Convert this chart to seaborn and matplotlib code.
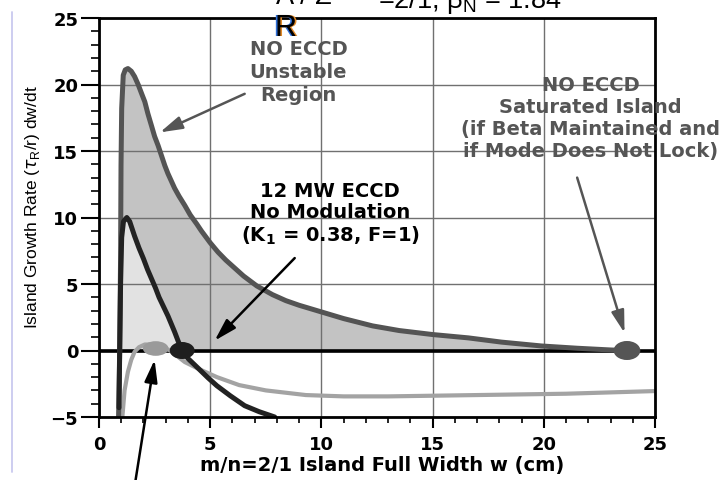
import matplotlib
matplotlib.use("Agg")
import matplotlib.pyplot as plt
import matplotlib.patheffects as pe
import seaborn as sns
import numpy as np
from matplotlib.patches import Ellipse
from matplotlib.lines import Line2D
from matplotlib.ticker import MultipleLocator

# ---------------- data ----------------
no_eccd_w = [0.88, 0.93, 0.97, 0.99, 1.02, 1.09, 1.18, 1.30, 1.45, 1.60, 1.76, 1.92,
             2.06, 2.20, 2.36, 2.50, 2.66, 2.80, 2.96, 3.10, 3.40, 3.60, 3.86, 4.10,
             4.40, 4.60, 5.00, 5.35, 5.70, 6.10, 6.50, 7.10, 7.80, 8.40, 9.00, 10.0,
             11.0, 12.3, 13.5, 15.0, 16.6, 18.1, 19.9, 21.5, 23.0, 23.7]
no_eccd_rate = [-5.0, 0.0, 7.0, 13.9, 18.2, 20.7, 21.1, 21.2, 21.0, 20.6, 20.0, 19.3,
                18.7, 17.8, 16.9, 16.1, 15.4, 14.7, 13.9, 13.3, 12.2, 11.6, 10.9, 10.2,
                9.5, 9.0, 8.1, 7.4, 6.8, 6.2, 5.6, 4.85, 4.2, 3.75, 3.4, 2.9,
                2.4, 1.85, 1.5, 1.2, 0.95, 0.63, 0.34, 0.17, 0.04, 0.0]

eccd_w = [0.90, 0.93, 0.97, 1.02, 1.10, 1.25, 1.38, 1.60, 1.80, 2.00, 2.18, 2.36,
          2.54, 2.70, 2.90, 3.10, 3.25, 3.40, 3.56, 3.74, 4.00, 4.50, 4.90, 5.30,
          5.90, 6.55, 7.20, 7.90]
eccd_rate = [-4.3, 0.0, 5.0, 8.5, 9.7, 10.0, 9.7, 8.6, 7.7, 6.9, 6.1, 5.4,
             4.7, 4.0, 3.3, 2.6, 2.0, 1.4, 0.7, 0.0, -0.6, -1.4, -2.05, -2.65,
             -3.4, -4.15, -4.6, -5.0]

mod_w = [1.05, 1.15, 1.30, 1.45, 1.60, 1.80, 2.06, 2.40, 2.80, 3.20, 3.50, 3.86, 4.50,
         5.30, 6.30, 7.50, 9.30, 11.0, 13.0, 15.0, 17.0, 19.0, 21.0, 23.0, 25.0]
mod_rate = [-5.0, -3.0, -1.6, -0.7, -0.1, 0.25, 0.45, 0.45, 0.3, 0.0, -0.4, -0.87, -1.4,
            -2.0, -2.6, -3.0, -3.35, -3.45, -3.45, -3.4, -3.35, -3.3, -3.25, -3.15, -3.05]

eq_w = [2.55, 3.74, 23.74]
eq_rate = [0.15, 0.0, 0.0]

x_ticks = [0, 5, 10, 15, 20, 25]
y_ticks = [-5, 0, 5, 10, 15, 20, 25]

# ---------------- style ----------------
sns.set_theme(style="white")
plt.rcParams['font.family'] = ['DejaVu Sans']
plt.rcParams['axes.unicode_minus'] = True

fig = plt.figure(figsize=(7.2, 4.81), dpi=100)
ax = fig.add_axes([99/720, 1-418/481, (655-99)/720, (418-19)/481])

# fills
ne_w = np.array(no_eccd_w); ne_r = np.array(no_eccd_rate)
ec_w = np.array(eccd_w); ec_r = np.array(eccd_rate)
ax.fill_between(ne_w, ne_r, 0, where=ne_r >= 0, interpolate=True,
                color='#c3c3c3', lw=0, zorder=1)
ax.fill_between(ec_w, ec_r, 0, where=ec_r >= 0, interpolate=True,
                color='#e2e2e2', lw=0, zorder=1.1)

# grid
ax.set_axisbelow(False)
ax.grid(True, which='major', color='#707070', lw=1.0, zorder=2)
ax.axhline(0, color='black', lw=2.6, zorder=2.6)

# curves
sns.lineplot(x=mod_w, y=mod_rate, ax=ax, color='#a3a3a3', lw=3.0,
             estimator=None, sort=False, zorder=3)
sns.lineplot(x=no_eccd_w, y=no_eccd_rate, ax=ax, color='#545454', lw=3.6,
             estimator=None, sort=False, zorder=4)
sns.lineplot(x=eccd_w, y=eccd_rate, ax=ax, color='#222222', lw=3.6,
             estimator=None, sort=False, zorder=5)

# equilibrium dots
dot_style = [('#9a9a9a', 1.15, 1.1), ('#1e1e1e', 1.12, 1.28), ('#555555', 1.2, 1.43)]
for (xw, yr), (c, ww, hh) in zip(zip(eq_w, eq_rate), dot_style):
    ax.add_patch(Ellipse((xw, yr), ww, hh, color=c, zorder=6, lw=0))

ax.set_xlim(0, 25)
ax.set_ylim(-5, 25)
ax.set_xticks(x_ticks)
ax.set_yticks(y_ticks)
ax.xaxis.set_minor_locator(MultipleLocator(1))
ax.yaxis.set_minor_locator(MultipleLocator(1))
for s in ax.spines.values():
    s.set_visible(True)
    s.set_color('black')
    s.set_linewidth(2.0)
    s.set_zorder(7)
ax.tick_params(axis='y', which='major', direction='out', length=13, width=1.5,
               color='black', pad=2, labelsize=13, left=True)
ax.tick_params(axis='y', which='minor', direction='out', length=6, width=1.2,
               color='black', left=True)
ax.tick_params(axis='x', which='major', direction='out', length=8, width=1.5,
               color='black', pad=5, labelsize=13, bottom=True)
ax.tick_params(axis='x', which='minor', direction='out', length=4.5, width=1.2,
               color='black', bottom=True)
for lab in ax.get_xticklabels() + ax.get_yticklabels():
    lab.set_fontweight('bold')
    lab.set_color('black')

ax.set_xlabel("m/n=2/1 Island Full Width w (cm)", fontsize=14, fontweight='bold',
              color='black')
ax.xaxis.label.set_va('center')
ax.xaxis.set_label_coords(0.51, -0.118)
ax.set_ylabel(r"Island Growth Rate ($\tau_\mathregular{R}$/r) dw/dt", fontsize=12.5,
              color='black', family=['Liberation Sans Narrow', 'Liberation Sans'])
ax.yaxis.label.set_va('center')
ax.yaxis.set_label_coords(-0.119, 0.529)

# annotations
gray_txt = '#555555'
ax.text(8.97, 20.95, "NO ECCD\nUnstable\nRegion", ha='center', va='center',
        fontsize=14, fontweight='bold', color=gray_txt, linespacing=1.27, zorder=8)
ax.text(10.4, 10.3, "12 MW ECCD\nNo Modulation\n(K$_\\mathregular{1}$ = 0.38, F=1)",
        ha='center', va='center', fontsize=14, fontweight='bold', color='black',
        linespacing=1.12, zorder=8)
ax.text(22.1, 17.55, "NO ECCD\nSaturated Island\n(if Beta Maintained and\nif Mode Does Not Lock)",
        ha='center', va='center', fontsize=14, fontweight='bold', color=gray_txt,
        linespacing=1.2, zorder=8, clip_on=False)

arrow_kw = dict(arrowstyle='-|>,head_length=0.9,head_width=0.26', lw=1.8,
                shrinkA=0, shrinkB=0, mutation_scale=15)
ax.annotate('', xy=(2.74, 16.4), xytext=(6.55, 19.3),
            arrowprops=dict(color=gray_txt, **arrow_kw), zorder=8)
ax.annotate('', xy=(5.2, 0.74), xytext=(8.8, 6.95),
            arrowprops=dict(color='black', **arrow_kw), zorder=8)
ax.annotate('', xy=(23.63, 1.32), xytext=(21.5, 13.0),
            arrowprops=dict(color=gray_txt, **arrow_kw), zorder=8)
ax.annotate('', xy=(2.5, -0.7), xytext=(1.62, -10.0),
            arrowprops=dict(color='black', **arrow_kw), zorder=8,
            annotation_clip=False)

# cropped title fragments at the top
fig.text(276/720, 1-4/481, "A / Z", fontsize=19.5, color='black',
         family=['Liberation Sans'], va='baseline', ha='left')
fig.text(378/720, 1-8/481, r"=2/1, β$_\mathregular{N}$ = 1.84", fontsize=19.5,
         color='black', family=['Liberation Sans'], va='baseline', ha='left')
fig.text(275/720, 1-37/481, "R", fontsize=22, color='black',
         family=['Liberation Sans'], va='baseline', ha='left', zorder=10,
         path_effects=[pe.SimplePatchShadow(offset=(-1.2, 0), shadow_rgbFace='#2f6fd6', alpha=1.0),
                       pe.SimplePatchShadow(offset=(1.2, 0), shadow_rgbFace='#e08a2a', alpha=1.0),
                       pe.Normal()])

# faint frame line at the left
fig.add_artist(Line2D([11.5/720, 11.5/720], [1-13/481, 1-473/481],
                      color='#c9c9ef', lw=1.3))

fig.savefig("out.png", dpi=100)
